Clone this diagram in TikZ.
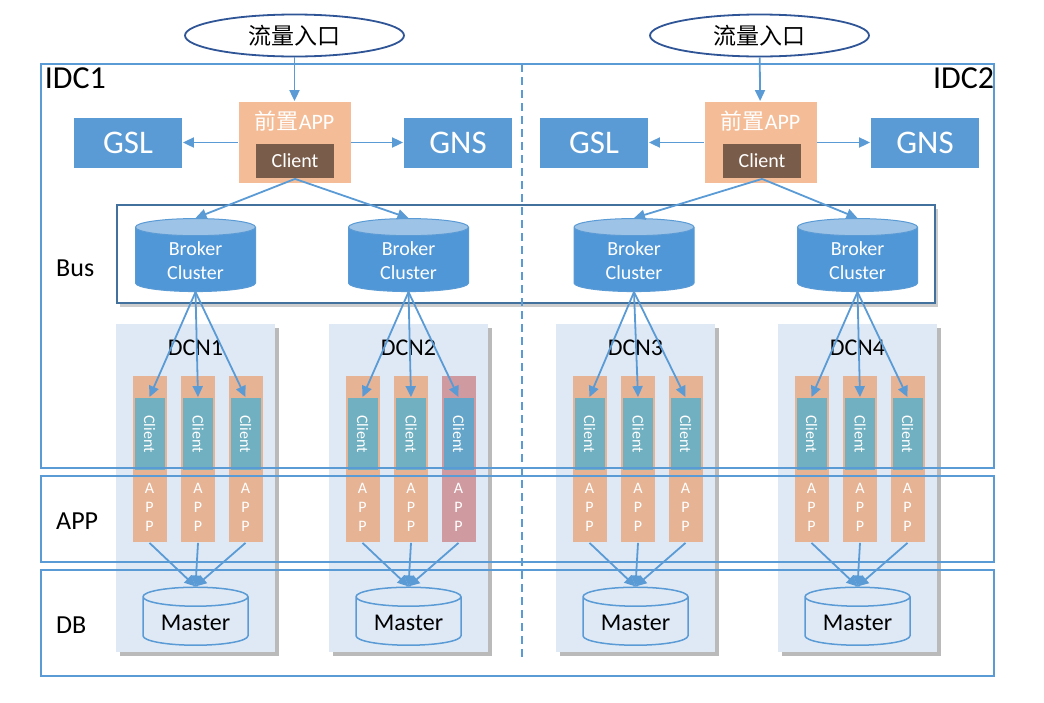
\documentclass[tikz,border=0pt]{standalone}
\usepackage{fontspec}
\setmainfont{Carlito}
\newfontfamily\cjk{Noto Sans CJK SC}
\usepackage{tikz}
\usetikzlibrary{arrows.meta}
\usetikzlibrary{shapes.geometric}
\usetikzlibrary{shadows}
\definecolor{ln}{HTML}{5B9BD5}
\definecolor{busln}{HTML}{41719C}
\definecolor{entln}{HTML}{2F5597}
\definecolor{prefill}{HTML}{F4BD97}
\definecolor{clifill}{HTML}{7A5C4A}
\definecolor{dcnfill}{HTML}{DEE9F5}
\definecolor{colfill}{HTML}{E6B394}
\definecolor{colcli}{HTML}{71B0C1}
\definecolor{pinkfill}{HTML}{CF9AA0}
\definecolor{pinkcli}{HTML}{65A5C9}
\definecolor{brkbody}{HTML}{5097D8}
\definecolor{brkend}{HTML}{9DC3E6}
\tikzset{xl/.style={font=\fontsize{32}{32}\selectfont}}
\tikzset{l/.style={font=\fontsize{26}{26}\selectfont}}
\tikzset{m/.style={font=\fontsize{20}{24}\selectfont}}
\tikzset{s/.style={font=\fontsize{16}{19}\selectfont}}
\tikzset{band/.style={draw=ln,line width=1.8pt}}
\tikzset{ent/.style={ellipse,draw=entln,line width=1.8pt,fill=white,minimum width=219,minimum height=42,font=\cjk\fontsize{23}{23}\selectfont}}
\tikzset{svc/.style={fill=ln,text=white,minimum width=108,minimum height=50,font=\fontsize{33}{33}\selectfont}}
\tikzset{front/.style={fill=prefill,minimum width=112,minimum height=81}}
\tikzset{cli/.style={fill=clifill,text=white,minimum width=78,minimum height=34,font=\fontsize{20}{20}\selectfont}}
\tikzset{broker/.style={cylinder,shape border rotate=90,aspect=0.27,minimum width=120,minimum height=73,cylinder uses custom fill,cylinder body fill=brkbody,cylinder end fill=brkend,draw=ln,line width=1pt,text=white,align=center,m}}
\tikzset{master/.style={cylinder,shape border rotate=90,aspect=0.25,minimum width=105,minimum height=58,fill=dcnfill,draw=ln,line width=1.5pt,font=\fontsize{24}{24}\selectfont}}
\tikzset{dcn/.style={fill=dcnfill,minimum width=159,minimum height=328,drop shadow={shadow xshift=4pt,shadow yshift=-4pt,fill=black!45,opacity=.6}}}
\tikzset{colbox/.style={minimum width=34,minimum height=166,inner sep=0}}
\tikzset{colcl/.style={minimum width=30,minimum height=72,inner sep=0,text=white,s}}

\begin{document}
\begin{tikzpicture}[x=1pt,y=-1pt,line width=1.8pt,>={Triangle[length=11pt,width=10pt]}]
  \useasboundingbox (0,0) rectangle (1044,702);
  % bus layer
  \node[draw=busln,line width=1.8pt,fill=white,minimum width=818,minimum height=98,
        drop shadow={shadow xshift=3pt,shadow yshift=-4pt,fill=black!40,opacity=.5}] (bus) at (526,254) {};
  % IDC1 entry
  \node[ent] (ent1) at (294.5,35.5) {流量入口};
  \node[front] (pre1) at (294.5,142.5) {};
  \node[font=\fontsize{22}{22}\selectfont,text=white] (pl1) at (294.5,121) {{\cjk 前置}APP};
  \node[cli] (cl1) at (295,161) {Client};
  \node[svc] (gsl1) at (128,142.5) {GSL};
  \node[svc] (gns1) at (458,142.5) {GNS};
  % IDC2 entry
  \node[ent] (ent2) at (759.5,35.5) {流量入口};
  \node[front] (pre2) at (760.5,142.5) {};
  \node[font=\fontsize{22}{22}\selectfont,text=white] (pl2) at (760.5,121) {{\cjk 前置}APP};
  \node[cli] (cl2) at (762,161) {Client};
  \node[svc] (gsl2) at (594,142.5) {GSL};
  \node[svc] (gns2) at (925,142.5) {GNS};
  \draw[->,ln] (ent1) -- (pre1);
  \draw[->,ln] (pre1) -- (gsl1);
  \draw[->,ln] (pre1) -- (gns1);
  \draw[->,ln] (ent2) -- (pre2);
  \draw[->,ln] (pre2) -- (gsl2);
  \draw[->,ln] (pre2) -- (gns2);
  % brokers
  \node[broker] (brk1) at (195.5,261) {Broker\\Cluster};
  \node[broker] (brk2) at (408.5,261) {Broker\\Cluster};
  \node[broker] (brk3) at (634,261) {Broker\\Cluster};
  \node[broker] (brk4) at (857.5,261) {Broker\\Cluster};
  \draw[->,ln] (cl1.south) -- (brk1.north);
  \draw[->,ln] (cl1.south) -- (brk2.north);
  \draw[->,ln] (cl2.south) -- (brk3.north);
  \draw[->,ln] (cl2.south) -- (brk4.north);
  % DCN blocks
  \foreach \n/\x in {1/195.5,2/408.5,3/635.5,4/857.5}{
    \node[dcn] (dcn\n) at (\x,488) {};
    \node[font=\fontsize{24}{24}\selectfont] (dl\n) at (\x,348) {DCN\n};
    \node[master] (m\n) at (\x,623) {Master};
    \foreach \c/\dx in {1/-46,2/2.5,3/50}{
      \ifnum\n\c=23 \def\cf{pinkfill}\def\ck{pinkcli}\else\def\cf{colfill}\def\ck{colcli}\fi
      \node[colbox,fill=\cf] (c\n\c) at ({\x+\dx},459) {};
      \node[colcl,fill=\ck] (k\n\c) at ({\x+\dx},434) {\rotatebox{-90}{Client}};
      \node[s,text=white,align=center] (a\n\c) at ({\x+\dx},507) {A\\P\\P};
      \draw[->,ln] (brk\n.south) -- (k\n\c.north);
      \draw[->,ln] (c\n\c.south) -- (m\n.north);
    }
  }
  % layers
  \draw[band] (41,64) rectangle (994,468);
  \draw[band] (41,476) rectangle (994,562);
  \draw[band] (41,570) rectangle (994,676);
  \draw[band,dash pattern=on 8pt off 5pt] (522,64) -- (522,657);
  \node[xl,anchor=north west,inner sep=1pt] (idc1) at (43,66) {IDC1};
  \node[xl,anchor=north east,inner sep=1pt] (idc2) at (996,66) {IDC2};
  \node[l,anchor=west] (lbus) at (52,268) {Bus};
  \node[l,anchor=west] (lapp) at (52,521) {APP};
  \node[l,anchor=west] (ldb) at (52,625) {DB};
\end{tikzpicture}
\end{document}
